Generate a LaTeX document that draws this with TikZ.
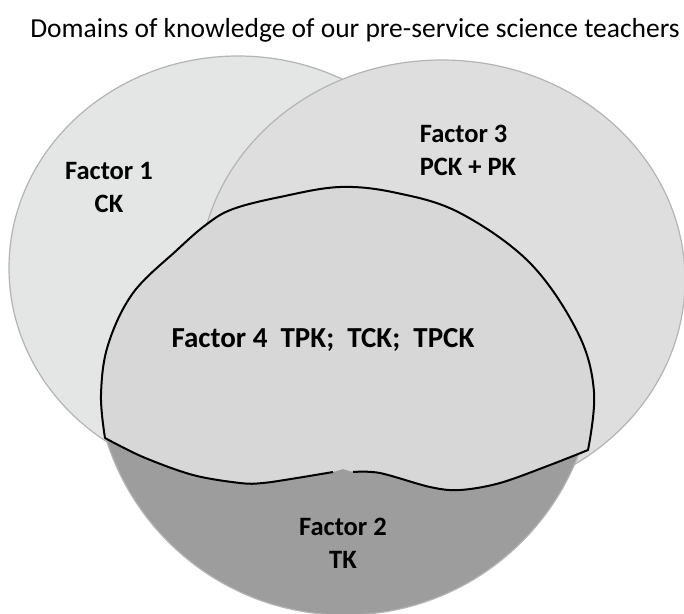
\documentclass[tikz,border=0pt]{standalone}
\usepackage{fontspec}
\setmainfont{Carlito}

\definecolor{ckgray}{RGB}{228,230,230}
\definecolor{pckgray}{RGB}{222,222,222}
\definecolor{tpckgray}{RGB}{215,215,215}
\definecolor{tkgray}{RGB}{157,157,157}
\definecolor{rimgray}{RGB}{180,180,180}

\tikzstyle{knowarea} = [draw=rimgray, line width=1.2pt]
\tikzstyle{factortxt} = [align=center, font=\fontsize{26.5}{33}\selectfont\bfseries]

% outline of the common part, open at the small notch at the bottom
\newcommand{\blobedge}{(333,472) -- plot[smooth, tension=0.55] coordinates {(333,472) (297,478) (263,483) (240,483) (193,475) (143,457) (105,438)}
  -- plot[smooth, tension=0.6] coordinates {(105,438) (101,395) (108,345) (133,293) (177,250) (207,224) (233,209) (280,197) (340,187) (397,193) (460,213) (530,263) (578,333) (594,392) (588,450)}
  -- plot[smooth, tension=0.55] coordinates {(588,450) (550,465) (500,483) (460,490) (430,487) (380,473) (353,472)}}

\begin{document}
\begin{tikzpicture}[x=1pt, y=-1pt]
\useasboundingbox[fill=white] (0,0) rectangle (684,613);
  \node[font=\fontsize{27.5}{33}\selectfont, anchor=base] (title) at (355,37) {Domains of knowledge of our pre-service science teachers};
% the big areas
\draw[knowarea, fill=ckgray] (238,268) ellipse [x radius=229, y radius=212];
\draw[knowarea, fill=pckgray] (442,280) ellipse [x radius=243, y radius=220];
\begin{scope}
  \clip (0,430) rectangle (684,613);
  \draw[knowarea, fill=tkgray] (345,365) circle [radius=250];
\end{scope}
% part shared by all of them
\fill[tpckgray] (343,469) -- \blobedge -- cycle;
\draw[line width=2pt, line join=round] \blobedge;
  \node[factortxt] (ck) at (109,187) {Factor 1\\CK};
  \node[factortxt, align=left] (pck) at (468,150) {Factor 3\\PCK + PK};
  \node[factortxt, font=\fontsize{29}{33}\selectfont\bfseries, anchor=base] (tpck) at (323,347) {Factor 4~ TPK;~ TCK;~ TPCK};
  \node[factortxt] (tk) at (343,543) {Factor 2\\TK};
\end{tikzpicture}
\end{document}
